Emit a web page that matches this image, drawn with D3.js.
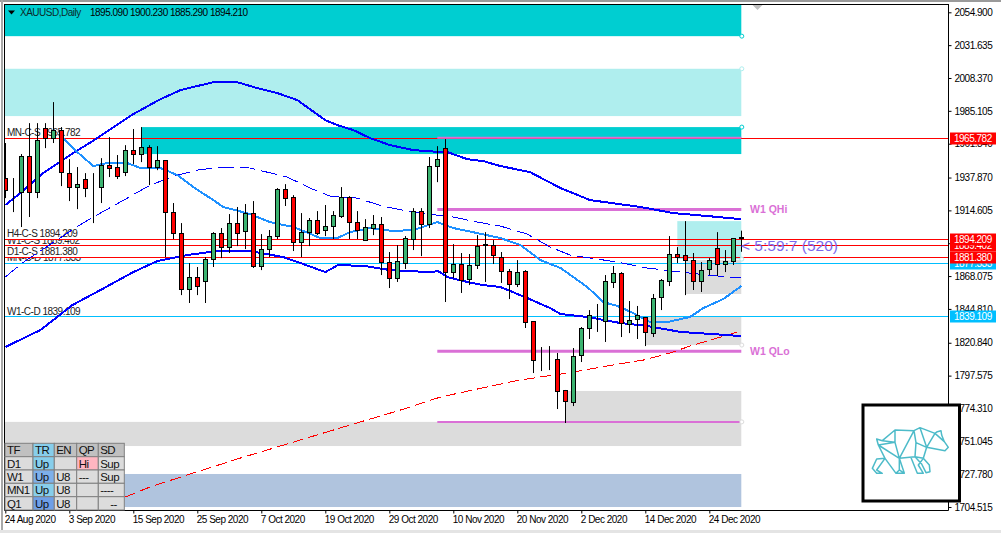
<!DOCTYPE html>
<html>
<head>
<meta charset="utf-8">
<script src="https://d3js.org/d3.v7.min.js"></script>
<style>
  html, body { margin: 0; padding: 0; background: #fff; overflow: hidden; }
  text { font-family: "Liberation Sans", Arial, sans-serif; font-size: 10px; letter-spacing: -0.5px; }
</style>
</head>
<body>
<svg id="chart" width="1001" height="533"></svg>
<script>
// daily candles, bar 0 = 24 Aug 2020
const opens = [1937.5,1929.0,1927.6,1953.1,1927.6,1972.9,1965.8,1971.5,1941.0,1931.1,1936.8,1931.1,1931.1,1946.7,1945.3,1941.7,1957.3,1954.5,1959.4,1945.3,
  1950.2,1913.4,1898.5,1858.9,1867.4,1864.6,1880.1,1898.5,1888.6,1905.6,1900.0,1912.7,1875.2,1887.2,1896.4,1929.7,1924.0,1892.2,1899.2,1907.7,
  1900.7,1903.5,1910.6,1924.0,1906.3,1893.6,1902.1,1904.9,1878.0,1866.7,1877.3,1894.3,1914.1,1904.9,1946.0,1958.7,1870.9,1876.6,1866.0,1875.9,
  1890.4,1890.0,1881.5,1871.6,1862.5,1871.6,1836.2,1808.6,1808.6,1809.3,1786.7,1778.9,1811.4,1830.6,1839.1,1835.5,1863.9,1870.2,1834.1,1836.9,
  1838.4,1827.7,1852.5,1864.6,1883.7,1883.0,1879.4,1864.6,1873.1,1887.9,1876.6,1878.7,1895.09];
const highs = [1962.3,1937.5,1954.5,1976.4,1976.4,1976.4,1991.3,1973.6,1950.9,1945.3,1941.0,1941.0,1951.6,1966.5,1953.8,1960.8,1972.2,1973.6,1960.8,1960.1,
  1950.2,1919.8,1905.6,1877.3,1874.5,1881.5,1899.2,1902.1,1912.0,1917.0,1919.1,1921.2,1897.8,1900.7,1930.4,1933.2,1925.4,1912.7,1909.2,1914.1,
  1918.4,1914.1,1931.1,1924.7,1914.1,1908.4,1911.3,1909.9,1885.1,1890.0,1896.4,1916.2,1916.2,1952.4,1960.1,1965.1,1890.7,1884.4,1883.7,1897.1,
  1899.2,1893.6,1885.1,1873.1,1879.4,1872.3,1836.2,1817.8,1818.5,1813.6,1787.4,1817.1,1832.0,1844.0,1848.3,1868.8,1875.2,1870.9,1850.4,1846.9,
  1839.1,1855.4,1866.0,1896.4,1888.6,1907.0,1884.4,1878.0,1880.8,1899.2,1886.5,1895.0,1900.23];
const lows = [1923.3,1913.4,1902.8,1909.9,1923.3,1958.7,1962.3,1931.8,1921.2,1915.5,1924.0,1905.6,1919.8,1938.2,1936.8,1938.9,1947.4,1948.8,1932.5,1943.1,
  1881.5,1894.3,1854.6,1849.0,1854.6,1849.0,1874.5,1880.8,1884.4,1889.3,1887.2,1873.8,1872.3,1881.5,1894.3,1917.7,1885.8,1881.5,1889.3,1897.1,
  1896.4,1894.3,1909.2,1894.3,1894.3,1892.9,1897.1,1868.8,1859.6,1863.9,1873.1,1886.5,1882.2,1902.1,1934.6,1849.7,1866.7,1856.1,1861.7,1873.1,
  1863.9,1876.6,1863.2,1851.8,1860.3,1831.3,1799.4,1800.8,1801.5,1773.9,1764.0,1776.0,1807.2,1823.5,1828.5,1821.4,1859.6,1824.9,1827.7,1823.5,
  1818.5,1824.9,1844.0,1861.0,1877.3,1854.6,1858.2,1856.8,1868.8,1868.1,1870.9,1875.9,1885.29];
const closes = [1929.0,1928.7,1953.1,1927.6,1964.4,1965.8,1971.5,1941.7,1931.1,1933.2,1930.4,1930.9,1946.7,1944.6,1938.9,1957.3,1954.5,1959.4,1945.3,1950.2,
  1913.4,1898.5,1858.9,1867.4,1861.0,1880.1,1898.5,1888.6,1905.6,1898.5,1912.7,1875.2,1887.2,1896.4,1929.7,1923.3,1892.2,1899.2,1907.7,1898.5,
  1903.5,1911.3,1924.0,1906.3,1900.7,1902.8,1904.9,1878.0,1866.7,1878.7,1895.0,1914.1,1904.9,1946.0,1950.9,1870.9,1876.6,1865.3,1875.9,1889.3,
  1889.6,1883.0,1871.6,1862.5,1870.9,1835.5,1808.6,1808.4,1808.4,1786.7,1778.9,1811.4,1830.6,1839.8,1838.9,1863.9,1870.2,1834.8,1836.9,1839.8,
  1827.7,1852.5,1864.6,1883.7,1881.5,1879.4,1864.6,1872.3,1879.4,1876.6,1878.7,1895.0,1894.21];

// moving average lines as [bar, price]
const upperThick = [[0,1918.4],[1.9,1926.9],[4.75,1941.0],[8.5,1955.2],[11.5,1965.8],[16,1982.8],[19.4,1993.4],[21.9,1999.8],[26,2005.4],[29,2005.4],[31.5,2001.2],
  [34,1997.7],[36.5,1992.7],[40,1978.5],[41.5,1975.0],[43.5,1971.5],[45.6,1965.8],[48.1,1960.8],[51,1957.3],[54.4,1955.9],[55.25,1955.9],[57.75,1950.9],
  [59.75,1949.5],[61.9,1946.0],[65.6,1941.7],[69.4,1930.4],[73.1,1921.9],[79.4,1917.0],[83.5,1912.7],[87.75,1910.6],[92,1908.4]];
const dashedBlue = [[0,1867.4],[2.1,1877.3],[9.1,1903.5],[11,1909.9],[15.25,1923.3],[18.1,1932.5],[21.5,1939.6],[24,1943.1],[26.9,1945.3],[30.6,1944.6],[35.25,1938.2],
  [38.1,1930.4],[40.6,1924.7],[44,1923.3],[47.1,1917.7],[50.25,1914.1],[52.75,1912.0],[56,1909.9],[59,1906.3],[61.9,1903.5],[63.1,1901.4],[65.25,1897.8],
  [68.1,1888.6],[70.6,1883.0],[74,1880.1],[76.5,1878.0],[80.25,1873.8],[84.4,1870.9],[87.75,1868.8],[92,1866.7]];
const lightBlue = [[7.25,1965.8],[9,1955.9],[11,1946.0],[12.75,1948.1],[15.25,1948.1],[16.9,1944.6],[19.4,1944.6],[21.5,1939.6],[23.5,1931.1],[26,1921.9],[27.25,1917.0],
  [30.6,1912.0],[33.1,1906.3],[36,1902.8],[39.4,1895.0],[41.5,1895.0],[43.1,1899.2],[45.6,1902.1],[48.5,1900.0],[51,1900.7],[54,1906.3],[56,1902.1],[59,1898.5],
  [61.9,1895.0],[64.4,1890.0],[66.9,1879.4],[69.4,1873.8],[72.75,1860.3],[74.75,1849.7],[76.5,1846.9],[78.5,1841.9],[80.6,1835.5],[82.75,1835.5],[85.6,1839.1],
  [87.25,1845.4],[89.75,1851.8],[92,1861.0]];
const lowerThick = [[0,1817.8],[4.4,1829.9],[8.4,1847.6],[11.9,1858.2],[16,1870.9],[19,1878.7],[22.75,1883.0],[26.5,1885.8],[30.6,1885.8],[34.75,1881.5],[36.9,1877.3],
  [40,1870.9],[41.6,1875.9],[45,1875.2],[48.1,1872.3],[53.1,1870.9],[54.1,1871.6],[55.25,1867.4],[57.75,1863.9],[59.75,1861.7],[61.9,1860.3],[65.25,1852.5],
  [68.1,1845.4],[69.4,1841.2],[72.75,1839.1],[76.9,1834.8],[80.25,1832.7],[84.4,1828.5],[88.1,1827.1],[92,1825.6]];
const redDashed = [[15,1711.6],[18.1,1718.7],[23.1,1727.9],[29.4,1739.2],[36.9,1752.0],[43.1,1762.6],[49.4,1773.2],[54.4,1782.4],[61.9,1791.6],[64.4,1794.5],
  [70.25,1799.4],[75.25,1804.4],[79.75,1808.6],[83.1,1813.6],[85.6,1818.5],[89,1824.2],[92,1829.2]];

// zones
const zoneStart = [-1,-1,17,84,85,80,70,-1,-1];
const zoneHigh = [2060.7,2014.9,1973.6,1907.0,1879.4,1839.1,1786.7,1764.8,1727.9];
const zoneLow = [2038.0,1981.4,1954.5,1880.1,1855.4,1819.2,1764.8,1747.7,1704.5];
const zoneKind = ["strong","light","strong","light","grey","grey","grey","grey","steel"];

// quarter levels
const levelPrices = [1966.0,1915.2,1814.8,1764.8];
const levelKinds = ["thin","thick","thick","thin"];

// horizontal levels, in drawing order
const hlinePrices = [1877.333,1889.402,1894.209,1881.380,1965.782,1839.109];
const hlineNames = ["MN-C-D","W1-C-S","H4-C-S","D1-C-S","MN-C-S","W1-C-D"];
const hlineKinds = ["dem","sup","sup","sup","sup","dem"];

const priceTicks = [2054.900,2031.635,2008.370,1985.105,1961.840,1937.870,1914.605,1891.340,1868.075,1844.810,1820.840,1797.575,1774.310,1751.045,1727.780,1704.515];
const timeBars = [0,8,16,24,32,40,48,56,64,72,80,88];
const timeLabels = ["24 Aug 2020","3 Sep 2020","15 Sep 2020","25 Sep 2020","7 Oct 2020","19 Oct 2020","29 Oct 2020","10 Nov 2020","20 Nov 2020","2 Dec 2020","14 Dec 2020","24 Dec 2020"];

const tableHead = ["TF","TR","EN","QP","SD"];
const tableRows = [["D1","Up","","Hi","Sup"],["W1","Up","U8","---","Sup"],["MN1","Up","U8","","----"],["Q1","Up","U8","","--"]];

const svg = d3.select("#chart");
const x = d3.scaleLinear().domain([0, 92]).range([5.3, 741.3]);
const y = d3.scaleLinear().domain([2054.9, 1704.515]).range([12.3, 507]);
const snap = v => Math.floor(v) + 0.5;

svg.append("defs").append("clipPath").attr("id", "plot")
  .append("rect").attr("x", 5).attr("y", 5).attr("width", 943).attr("height", 505);

// window edges
svg.append("rect").attr("x", 0).attr("y", 0).attr("width", 1001).attr("height", 2).attr("fill", "#9a9a9a");
svg.append("rect").attr("x", 1).attr("y", 0).attr("width", 2).attr("height", 533).attr("fill", "#a8a8a8");
svg.append("rect").attr("x", 0).attr("y", 530).attr("width", 1001).attr("height", 3).attr("fill", "#e4e4e4");

const plot = svg.append("g").attr("clip-path", "url(#plot)");

const zoneColor = { strong: "#00CED1", light: "#AFEEEE", grey: "#DCDCDC", steel: "#B0C4DE" };
zoneKind.forEach((k, i) => {
  plot.append("rect")
    .attr("x", x(zoneStart[i]))
    .attr("y", y(zoneHigh[i]))
    .attr("width", x(92) - x(zoneStart[i]))
    .attr("height", y(zoneLow[i]) - y(zoneHigh[i]))
    .attr("fill", zoneColor[k]);
});

// level names sit just above their lines, each with a white plate
const labelOrder = [4, 5, 0, 1, 2, 3];
labelOrder.forEach(i => {
  const base = Math.round(y(hlinePrices[i])) - 2;
  plot.append("rect").attr("x", 6).attr("y", base - 9).attr("width", 76).attr("height", 11).attr("fill", "#fff");
  plot.append("text").attr("x", 7).attr("y", base).attr("fill", "#222")
    .text(hlineNames[i] + " " + d3.format(".3f")(hlinePrices[i]));
});

const hlineColor = { sup: "#FF0000", dem: "#00BFFF" };
hlinePrices.forEach((p, i) => {
  plot.append("line")
    .attr("x1", 5).attr("x2", 948)
    .attr("y1", snap(y(p))).attr("y2", snap(y(p)))
    .attr("stroke", hlineColor[hlineKinds[i]]).attr("stroke-width", 1);
});

levelPrices.forEach((p, i) => {
  plot.append("line")
    .attr("x1", x(54)).attr("x2", x(92))
    .attr("y1", y(p)).attr("y2", y(p))
    .attr("stroke", "#DA70D6").attr("stroke-width", levelKinds[i] === "thick" ? 3 : 2);
});

const line = d3.line().x(d => x(d[0])).y(d => y(d[1]));
function drawLine(data, color, width, dash) {
  plot.append("path").datum(data)
    .attr("d", line)
    .attr("fill", "none")
    .attr("stroke", color)
    .attr("stroke-width", width)
    .attr("stroke-dasharray", dash)
    .attr("shape-rendering", "crispEdges");
}
drawLine(redDashed, "#FF0000", 1, "11,5");
drawLine(dashedBlue, "#0000FF", 1, "16,6");
drawLine(lowerThick, "#0000FF", 2, null);
drawLine(upperThick, "#0000FF", 2, null);
drawLine(lightBlue, "#1E90FF", 2, null);

// anchor dots at the zone ends
const dotPrices = [2038.0,2014.9,1973.6,1880.1,1819.2,1764.8];
const dotKinds = ["strong","light","strong","light","grey","grey"];
dotPrices.forEach((p, i) => {
  plot.append("circle").attr("cx", x(92) + 0.5).attr("cy", y(p)).attr("r", 2)
    .attr("fill", "#fff").attr("stroke", zoneColor[dotKinds[i]]).attr("stroke-width", 1);
});

// candles
const bars = opens.map((o, i) => ({ i, o, h: highs[i], l: lows[i], c: closes[i] }));
const candle = plot.append("g").selectAll("g").data(bars).join("g");
candle.append("line")
  .attr("x1", d => snap(x(d.i))).attr("x2", d => snap(x(d.i)))
  .attr("y1", d => y(d.h)).attr("y2", d => y(d.l))
  .attr("stroke", "#000").attr("stroke-width", 1);
candle.append("rect")
  .attr("x", d => snap(x(d.i)) - 2)
  .attr("width", 4)
  .attr("y", d => snap(y(Math.max(d.o, d.c))))
  .attr("height", d => Math.round(Math.abs(y(d.o) - y(d.c))))
  .attr("fill", d => d.c >= d.o ? "#3CB371" : "#FF0000")
  .attr("stroke", "#000").attr("stroke-width", 1);

// axes
const yAxis = svg.append("g").attr("transform", "translate(948.5,0)")
  .call(d3.axisRight(y).tickValues(priceTicks).tickFormat(d3.format(".3f")).tickSize(3).tickPadding(3));
const xAxis = svg.append("g").attr("transform", "translate(0,510.5)")
  .call(d3.axisBottom(x).tickValues(timeBars).tickFormat((d, i) => timeLabels[i]).tickSize(3).tickPadding(2));
[yAxis, xAxis].forEach(a => {
  a.select(".domain").remove();
  a.selectAll("line").attr("stroke", "#000");
  a.selectAll("text").attr("fill", "#000").style("font-family", '"Liberation Sans", Arial, sans-serif').style("font-size", "10px");
});
xAxis.selectAll("text").attr("text-anchor", "start").attr("x", -1);

// frame
svg.append("path").attr("d", "M4.5,4V510.5H948.5V4M4,4.5H949").attr("fill", "none").attr("stroke", "#000");

// price flags on the axis
const flagColor = { sup: "#FF0000", dem: "#00BFFF" };
hlinePrices.forEach((p, i) => {
  const cy = snap(y(p));
  svg.append("rect").attr("x", 950).attr("y", cy - 6).attr("width", 46).attr("height", 12).attr("fill", flagColor[hlineKinds[i]]);
  svg.append("text").attr("x", 954).attr("y", cy + 3.5).attr("fill", "#fff").text(d3.format(".3f")(p));
});

// header
svg.append("path").attr("d", "M8,10.5H15L11.5,14.5Z").attr("fill", "#000");
svg.append("text").attr("x", 20).attr("y", 16).attr("fill", "#0b2a2a").text("XAUUSD,Daily");
svg.append("text").attr("x", 90).attr("y", 16).attr("fill", "#000").text("1895.090 1900.230 1885.290 1894.210");
svg.append("path").attr("d", "M752.5,5H762.5L757.5,10Z").attr("fill", "#C0C0C0");

// quarter labels and countdown
svg.append("text").attr("x", 750).attr("y", 213).attr("fill", "#DA70D6").style("font-size", "10.5px").style("font-weight", "bold").style("letter-spacing", "0").text("W1 QHi");
svg.append("text").attr("x", 750).attr("y", 355).attr("fill", "#DA70D6").style("font-size", "10.5px").style("font-weight", "bold").style("letter-spacing", "0").text("W1 QLo");
svg.append("text").attr("x", 741).attr("y", 251).attr("fill", "#7B68EE").style("font-size", "15.5px").style("letter-spacing", "0").text("< 5:59:7 (520)");

// state table
const colEdges = [5, 33, 54.3, 76.7, 98.3, 124.3];
const rowEdges = [443.3, 456.7, 470, 483.3, 496.7, 510];
const trColor = ["#87CEEB", "#7EB0EA", "#87CEEB", "#6F9FE6"];
const table = svg.append("g");
[tableHead].concat(tableRows).forEach((row, r) => {
  row.forEach((cell, c) => {
    let fill = r === 0 ? "#C0C0C0" : "#DCDCDC";
    if (c === 1) fill = r === 0 ? "#87CEEB" : trColor[r - 1];
    if (cell === "Hi") fill = "#FFB6C1";
    table.append("rect")
      .attr("x", colEdges[c]).attr("y", rowEdges[r])
      .attr("width", colEdges[c + 1] - colEdges[c])
      .attr("height", rowEdges[r + 1] - rowEdges[r])
      .attr("fill", fill).attr("stroke", "#808080").attr("stroke-width", 1);
    table.append("text")
      .attr("x", colEdges[c] + (c === 4 && cell === "--" ? 12 : 2))
      .attr("y", rowEdges[r] + 11)
      .attr("fill", "#111").style("font-size", "11.5px").style("letter-spacing", "-0.6px")
      .text(cell);
  });
});

// bear logo box
svg.append("rect").attr("x", 863).attr("y", 405).attr("width", 96.5).attr("height", 96)
  .attr("fill", "#fff").attr("stroke", "#000").attr("stroke-width", 3);
const bear = [
  "M115,165L110,147L127,152L165,120L222,122L240,113L285,130L292,125L303,122L305,135L313,155L325,172L315,182L260,172",
  "M127,152L165,157L165,120M165,157L178,205L222,122M115,165L165,157M115,165L178,205",
  "M222,122L228,158L260,172L240,113M228,158L225,200L178,205M260,172L250,205L225,200M285,130L260,172M285,130L313,155",
  "M115,165L135,205L110,207L97,235L110,250L127,250L110,240L135,205M135,205L168,250L193,250L178,205M168,250L178,240L193,250M178,205L178,240",
  "M212,200L232,250L250,250L235,225L250,205M250,205L268,225L270,245L258,248L245,222L225,200"
];
svg.append("path").attr("d", bear.join(""))
  .attr("transform", "translate(840,390) scale(0.3333)")
  .attr("fill", "none").attr("stroke", "#4DBBC9").attr("stroke-width", 4.5).attr("stroke-linejoin", "round");
</script>
</body>
</html>
